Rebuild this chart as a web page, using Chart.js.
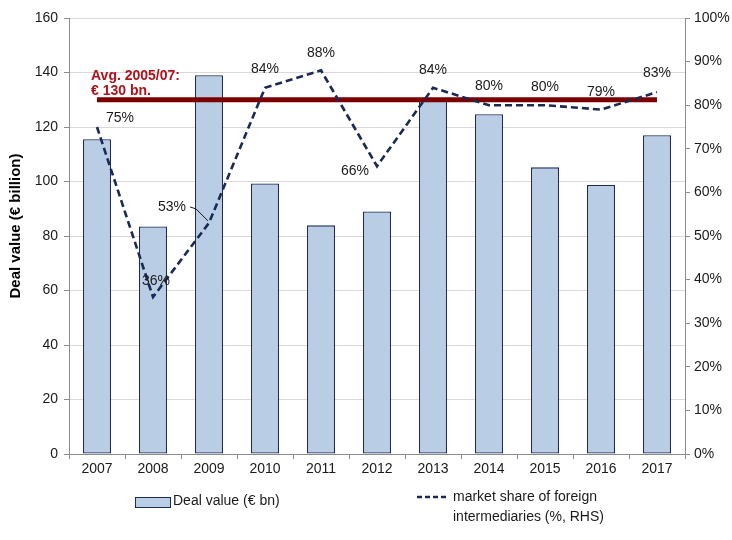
<!DOCTYPE html>
<html>
<head>
<meta charset="utf-8">
<script src="https://cdn.jsdelivr.net/npm/chart.js@4.4.1/dist/chart.umd.min.js"></script>
<style>
  html, body { margin: 0; padding: 0; background: #fff; }
  #wrap { width: 732px; height: 540px; position: relative; }
</style>
</head>
<body>
<div id="wrap"><canvas id="chart" width="732" height="540"></canvas></div>
<script>
// ── data ─────────────────────────────────────────────────────────────────────
const YEARS         = ["2007","2008","2009","2010","2011","2012","2013","2014","2015","2016","2017"];
const DEAL_VALUE    = [115.5, 83.5, 139, 99.3, 83.9, 89, 130.2, 124.7, 105.2, 98.7, 117];
const FOREIGN_SHARE = [75, 36, 53, 84, 88, 66, 84, 80, 80, 79, 83];
const AVG_LEVEL     = 130;
const AVG_LINE      = YEARS.map(() => AVG_LEVEL);
const LEFT_TICKS    = [0, 20, 40, 60, 80, 100, 120, 140, 160];
const RIGHT_TICKS   = [0, 10, 20, 30, 40, 50, 60, 70, 80, 90, 100];
const AVG_TEXT      = ["Avg. 2005/07:", "€ 130 bn."];
const Y_TITLE       = "Deal value (€ billion)";

const FONT = "'Liberation Sans', Arial, sans-serif";
const BAR_FILL = "#b9cde5";
const BAR_EDGE = "#1c2c5e";
const LINE_COL = "#1b2a55";
const AVG_COL  = "#7d0000";
const AVG_TXT  = "#b0121b";
const AXIS_COL = "#8c8c8c";
const GRID_COL = "#d9d9d9";

// label offsets (px) for the % labels, relative to each point
const LABEL_OFFSETS = [
  { dx: 23, dy: -9 }, { dx: 3, dy: -16 }, { dx: -37, dy: -16, leader: true },
  { dx: 0, dy: -19 }, { dx: 0, dy: -17 }, { dx: -22, dy: 5 },
  { dx: 0, dy: -18 }, { dx: 0, dy: -19 }, { dx: 0, dy: -18 },
  { dx: 0, dy: -17 }, { dx: 0, dy: -19 },
];

// ── plugins ──────────────────────────────────────────────────────────────────
const shareLabels = {
  id: "shareLabels",
  afterDatasetsDraw(chart) {
    const meta = chart.getDatasetMeta(1);
    const { ctx } = chart;
    ctx.save();
    ctx.font = `14px ${FONT}`;
    ctx.fillStyle = "#1a1a1a";
    ctx.textAlign = "center";
    ctx.textBaseline = "middle";
    meta.data.forEach((pt, i) => {
      const off = LABEL_OFFSETS[i] || { dx: 0, dy: -18 };
      const txt = chart.data.datasets[1].data[i] + "%";
      const lx = pt.x + off.dx, ly = pt.y + off.dy;
      ctx.fillText(txt, lx, ly);
      if (off.leader) {
        const w = ctx.measureText(txt).width;
        ctx.strokeStyle = "#1a1a1a";
        ctx.lineWidth = 1;
        ctx.beginPath();
        ctx.moveTo(lx + w / 2 + 4, ly);
        ctx.lineTo(lx + w / 2 + 10, ly + 2);
        ctx.lineTo(pt.x - 1, pt.y - 2);
        ctx.stroke();
      }
    });

    // average caption
    const xs = chart.scales.x, ys = chart.scales.y;
    const ax = xs.getPixelForValue(0) - 6;
    const ay = ys.getPixelForValue(AVG_LEVEL);
    ctx.font = `bold 14px ${FONT}`;
    ctx.fillStyle = AVG_TXT;
    ctx.textAlign = "left";
    ctx.fillText(AVG_TEXT[0], ax, ay - 24);
    ctx.fillText(AVG_TEXT[1], ax, ay - 9);

    // left axis title
    const area = chart.chartArea;
    ctx.translate(16, (area.top + area.bottom) / 2 - 10);
    ctx.rotate(-Math.PI / 2);
    ctx.textAlign = "center";
    ctx.fillStyle = "#000";
    ctx.font = `bold 15px ${FONT}`;
    ctx.fillText(Y_TITLE, 0, 0);
    ctx.restore();
  },
};

const bottomLegend = {
  id: "bottomLegend",
  afterDraw(chart) {
    const { ctx } = chart;
    const ds = chart.data.datasets;
    ctx.save();
    ctx.font = `14px ${FONT}`;
    ctx.fillStyle = "#1a1a1a";
    ctx.textBaseline = "middle";
    ctx.textAlign = "left";

    // bars
    ctx.fillStyle = ds[0].backgroundColor;
    ctx.fillRect(135, 497, 35, 10);
    ctx.strokeStyle = ds[0].borderColor;
    ctx.lineWidth = 1;
    ctx.strokeRect(135.5, 497.5, 35, 10);
    ctx.fillStyle = "#1a1a1a";
    ctx.fillText(ds[0].label, 173, 501);

    // line
    ctx.strokeStyle = ds[1].borderColor;
    ctx.lineWidth = 2.5;
    ctx.setLineDash([5, 3]);
    ctx.beginPath();
    ctx.moveTo(417, 497);
    ctx.lineTo(449, 497);
    ctx.stroke();
    ctx.setLineDash([]);
    const lines = ds[1].label;
    lines.forEach((t, i) => ctx.fillText(t, 453, 497 + i * 20));
    ctx.restore();
  },
};

// ── chart ────────────────────────────────────────────────────────────────────
new Chart(document.getElementById("chart"), {
  type: "bar",
  data: {
    labels: YEARS,
    datasets: [
      {
        type: "bar",
        label: "Deal value (€ bn)",
        data: DEAL_VALUE,
        backgroundColor: BAR_FILL,
        borderColor: BAR_EDGE,
        borderWidth: 1.3,
        borderSkipped: false,
        categoryPercentage: 1,
        barPercentage: 0.5,
        yAxisID: "y",
        order: 3,
      },
      {
        type: "line",
        label: ["market share of foreign", "intermediaries (%, RHS)"],
        data: FOREIGN_SHARE,
        borderColor: LINE_COL,
        borderWidth: 2.6,
        borderDash: [7, 4],
        pointRadius: 0,
        tension: 0,
        fill: false,
        yAxisID: "y2",
        order: 1,
      },
      {
        type: "line",
        label: "Avg. 2005/07",
        data: AVG_LINE,
        borderColor: AVG_COL,
        borderWidth: 5,
        pointRadius: 0,
        borderCapStyle: "butt",
        fill: false,
        yAxisID: "y",
        order: 2,
      },
    ],
  },
  options: {
    responsive: false,
    animation: false,
    layout: { padding: { top: 18, left: 0, right: 0, bottom: 62 } },
    plugins: { legend: { display: false }, tooltip: { enabled: false } },
    scales: {
      x: {
        offset: true,
        grid: { offset: true, drawOnChartArea: false, tickLength: 5, tickColor: AXIS_COL },
        border: { color: AXIS_COL },
        ticks: { color: "#1a1a1a", font: { family: FONT, size: 14 }, padding: 2, maxRotation: 0 },
        afterFit: s => { s.height = 24; },
      },
      y: {
        position: "left",
        min: LEFT_TICKS[0],
        max: LEFT_TICKS[LEFT_TICKS.length - 1],
        afterBuildTicks: s => { s.ticks = LEFT_TICKS.map(v => ({ value: v })); },
        grid: { color: GRID_COL, tickLength: 5, tickColor: AXIS_COL },
        border: { color: AXIS_COL },
        ticks: { color: "#1a1a1a", font: { family: FONT, size: 14 }, padding: 6 },
        afterFit: s => { s.width = 69; },
      },
      y2: {
        position: "right",
        min: RIGHT_TICKS[0],
        max: RIGHT_TICKS[RIGHT_TICKS.length - 1],
        afterBuildTicks: s => { s.ticks = RIGHT_TICKS.map(v => ({ value: v })); },
        grid: { drawOnChartArea: false, tickLength: 5, tickColor: AXIS_COL },
        border: { color: AXIS_COL },
        ticks: { color: "#1a1a1a", font: { family: FONT, size: 14 }, padding: 4, callback: v => v + "%" },
        afterFit: s => { s.width = 47; },
      },
    },
  },
  plugins: [shareLabels, bottomLegend],
});
</script>
</body>
</html>
